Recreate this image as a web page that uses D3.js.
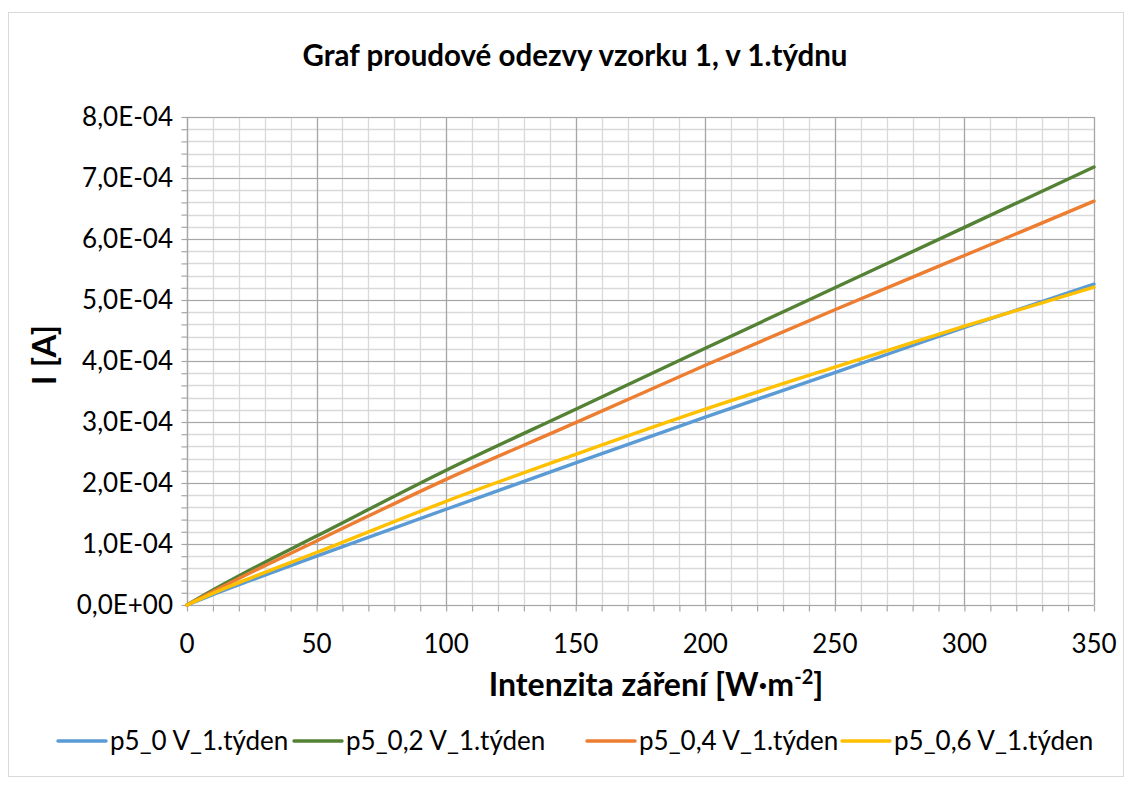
<!DOCTYPE html>
<html><head><meta charset="utf-8">
<script src="https://cdn.jsdelivr.net/npm/d3@7"></script>
<style>body{margin:0;background:#fff;} text{font-family:Lato,"Open Sans",sans-serif;}</style>
</head><body><svg id="c" width="1132" height="789"></svg>
<script>
const xValues = [0, 10, 25, 50, 100, 150, 200, 250, 300, 350];
const seriesNames = ["p5_0 V_1.týden", "p5_0,2 V_1.týden", "p5_0,4 V_1.týden", "p5_0,6 V_1.týden"];
const blue   = [0, 0.17e-4, 0.41e-4, 0.80e-4, 1.57e-4, 2.33e-4, 3.08e-4, 3.81e-4, 4.55e-4, 5.26e-4];
const green  = [0, 0.245e-4, 0.59e-4, 1.13e-4, 2.21e-4, 3.21e-4, 4.21e-4, 5.20e-4, 6.19e-4, 7.18e-4];
const orange = [0, 0.22e-4, 0.54e-4, 1.05e-4, 2.06e-4, 2.99e-4, 3.93e-4, 4.84e-4, 5.73e-4, 6.62e-4];
const yellow = [0, 0.19e-4, 0.45e-4, 0.86e-4, 1.70e-4, 2.47e-4, 3.21e-4, 3.90e-4, 4.57e-4, 5.21e-4];
const colors = ["#5B9BD5", "#548235", "#ED7D31", "#FFC000"];
const xTicks = [0, 50, 100, 150, 200, 250, 300, 350];
const yTicks = [0, 1e-4, 2e-4, 3e-4, 4e-4, 5e-4, 6e-4, 7e-4, 8e-4];
const yTickLabels = ["0,0E+00","1,0E-04","2,0E-04","3,0E-04","4,0E-04","5,0E-04","6,0E-04","7,0E-04","8,0E-04"];

const svg = d3.select("#c");
svg.append("rect").attr("x",8.5).attr("y",12.5).attr("width",1115).attr("height",764)
  .attr("fill","#fff").attr("stroke","#D9D9D9");

const L=187, R=1094, T=117, B=605;
const x = d3.scaleLinear().domain([0,350]).range([L,R]);
const y = d3.scaleLinear().domain([0,8e-4]).range([B,T]);

const g = svg.append("g");
const xMinor = d3.range(0,351,10), yMinor = d3.range(0,41).map(i=>i*2e-5);
g.selectAll(".vx").data(xMinor).enter().append("line")
  .attr("x1",d=>Math.round(x(d))+0.5).attr("x2",d=>Math.round(x(d))+0.5).attr("y1",T).attr("y2",B)
  .attr("stroke","#D9D9D9").attr("stroke-width",1.3);
g.selectAll(".hy").data(yMinor).enter().append("line")
  .attr("y1",d=>Math.round(y(d))+0.5).attr("y2",d=>Math.round(y(d))+0.5).attr("x1",L).attr("x2",R)
  .attr("stroke","#D9D9D9").attr("stroke-width",1.3);
g.selectAll(".mx").data(xTicks).enter().append("line")
  .attr("x1",d=>Math.round(x(d))+0.5).attr("x2",d=>Math.round(x(d))+0.5).attr("y1",T).attr("y2",B)
  .attr("stroke","#A6A6A6").attr("stroke-width",1.2);
g.selectAll(".my").data(yTicks).enter().append("line")
  .attr("y1",d=>Math.round(y(d))+0.5).attr("y2",d=>Math.round(y(d))+0.5).attr("x1",L).attr("x2",R)
  .attr("stroke","#A6A6A6").attr("stroke-width",1.2);

const xAxis = d3.axisBottom(x).tickValues(xMinor).tickSize(6).tickFormat("");
const yAxis = d3.axisLeft(y).tickValues(yMinor).tickSize(6).tickFormat("");
const gx = svg.append("g").attr("transform",`translate(0,${B+0.5})`).call(xAxis);
const gy = svg.append("g").attr("transform",`translate(${L+0.5},0)`).call(yAxis);
[gx,gy].forEach(a=>{a.selectAll("path,line").attr("stroke","#A6A6A6").attr("stroke-width",1.2);
  a.select(".domain").attr("d", a===gx ? `M${L},0H${R}` : `M0,${T}V${B}`);});

svg.selectAll(".xl").data(xTicks).enter().append("text")
  .attr("x",d=>x(d)).attr("y",B+48).attr("text-anchor","middle")
  .attr("font-size",26).attr("fill","#000").text(d=>d);
svg.selectAll(".yl").data(yTicks).enter().append("text")
  .attr("x",L-14).attr("y",d=>y(d)+9).attr("text-anchor","end")
  .attr("font-size",26).attr("fill","#000").text((d,i)=>yTickLabels[i]);

const all = [blue, green, orange, yellow];
const line = d3.line().x((d,i)=>x(xValues[i])).y(d=>y(d)).curve(d3.curveMonotoneX);
[0,1,2,3].forEach(i=>{
  svg.append("path").attr("d",line(all[i])).attr("fill","none")
    .attr("stroke",colors[i]).attr("stroke-width",3.4).attr("stroke-linecap","round");
});

svg.append("text").attr("x",575).attr("y",66).attr("text-anchor","middle")
  .attr("font-size",29.5).attr("font-weight","bold").text("Graf proudové odezvy vzorku 1, v 1.týdnu");
const xt = svg.append("text").attr("x",656).attr("y",696).attr("text-anchor","middle")
  .attr("font-size",32).attr("font-weight","bold");
xt.append("tspan").text("Intenzita záření [W·m");
xt.append("tspan").attr("dy",-12).attr("font-size",20).text("-2");
xt.append("tspan").attr("dy",12).text("]");
svg.append("text").attr("transform","translate(56,355) rotate(-90)").attr("text-anchor","middle")
  .attr("font-size",33).attr("font-weight","bold").text("I [A]");

const legX = [58, 294, 587, 842];
seriesNames.forEach((n,i)=>{
  const lg = svg.append("g").attr("transform",`translate(${legX[i]},741)`);
  lg.append("line").attr("x1",0).attr("x2",48).attr("y1",0).attr("y2",0)
    .attr("stroke",colors[i]).attr("stroke-width",3.4).attr("stroke-linecap","round");
  lg.append("text").attr("x",52).attr("y",9).attr("font-size",26).text(n);
});
</script></body></html>
